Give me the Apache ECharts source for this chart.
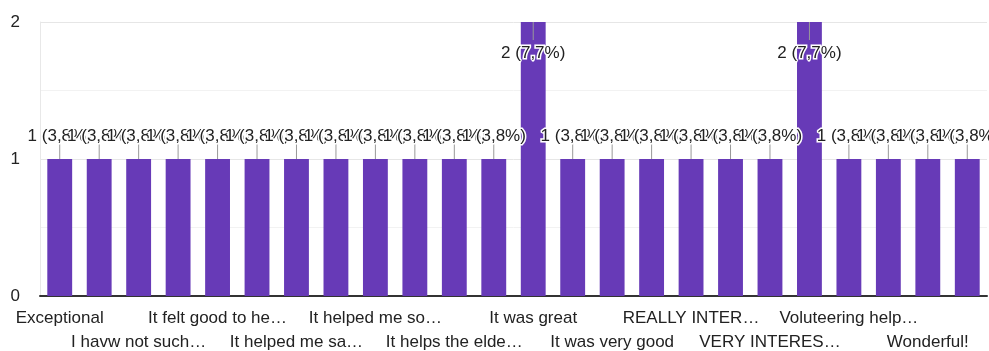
<!DOCTYPE html>
<html>
<head>
<meta charset="utf-8">
<script src="https://cdn.jsdelivr.net/npm/echarts@6/dist/echarts.min.js"></script>
<style>
html,body{margin:0;padding:0;background:#fff;}
#chart{width:989px;height:351px;}
</style>
</head>
<body>
<div id="chart"></div>
<script>
const categories = [
  "Exceptional", "Great experience", "I havw not such…", "It felt good",
  "It felt good to he…", "It helped me", "It helped me sa…", "It helped me see…",
  "It helped me so…", "It helps others", "It helps the elde…", "It was fun",
  "It was great", "It was nice", "It was very good", "Nice",
  "REALLY INTER…", "Very good", "VERY INTERES…", "Very nice",
  "Voluteering help…", "Wonderful", "Wonderful!", "Worth it"
];
const values = [1,1,1,1,1,1,1,1,1,1,1,1,2,1,1,1,1,1,1,2,1,1,1,1];
const yTicks = [0, 1, 2];

const total = values.reduce((a, b) => a + b, 0);
const yMax = yTicks[yTicks.length - 1];
const FONT = '"Liberation Sans", Arial, sans-serif';

const labelBase = {
  color: '#222',
  fontFamily: FONT,
  fontSize: 17,
  lineHeight: 24,
  margin: 10,
  hideOverlap: false
};

const chart = echarts.init(document.getElementById('chart'), null, {renderer: 'canvas'});
chart.setOption({
  animation: false,
  grid: {left: 40, right: 2, top: 22, bottom: 55, containLabel: false, outerBoundsMode: 'none'},
  xAxis: [
    {
      type: 'category',
      data: categories,
      position: 'bottom',
      axisLine: {show: true, lineStyle: {color: '#333', width: 2}},
      axisTick: {show: false},
      axisLabel: Object.assign({}, labelBase, {interval: (i) => i % 4 === 0}),
      splitLine: {show: false}
    },
    {
      type: 'category',
      data: categories,
      position: 'bottom',
      offset: 24,
      axisLine: {show: false},
      axisTick: {show: false},
      axisLabel: Object.assign({}, labelBase, {interval: (i) => i % 4 === 2}),
      splitLine: {show: false}
    }
  ],
  yAxis: {
    type: 'value',
    min: yTicks[0],
    max: yMax,
    interval: 1,
    axisLine: {show: true, lineStyle: {color: '#e8e8e8', width: 1}},
    axisTick: {show: false},
    axisLabel: {color: '#222', fontFamily: FONT, fontSize: 17, margin: 20},
    splitLine: {show: true, lineStyle: {color: '#e6e6e6', width: 1}},
    minorTick: {show: false, splitNumber: 2},
    minorSplitLine: {show: true, lineStyle: {color: '#f2f2f2', width: 1}}
  },
  series: [
    {
      type: 'bar',
      xAxisIndex: 0,
      data: values,
      barWidth: '63%',
      itemStyle: {color: '#673ab7'},
      z: 2
    },
    {
      type: 'custom',
      xAxisIndex: 0,
      clip: false,
      z: 5,
      data: values.map((v, i) => [i, v]),
      renderItem: function (params, api) {
        const idx = api.value(0);
        const v = api.value(1);
        const p = api.coord([idx, v]);
        const pct = (v / total * 100).toFixed(1).replace('.', ',');
        const txt = v + ' (' + pct + '%)';
        let l1, l2, ty;
        if (v >= yMax) {
          l1 = p[1]; l2 = p[1] + 18; ty = p[1] + 31;
        } else {
          l1 = p[1] - 18; l2 = p[1]; ty = p[1] - 23;
        }
        return {
          type: 'group',
          children: [
            {type: 'line', shape: {x1: p[0], y1: l1, x2: p[0], y2: l2},
             style: {stroke: '#999', lineWidth: 1}},
            {type: 'text', x: p[0], y: ty,
             style: {text: txt, fill: '#222', stroke: '#fff', lineWidth: 3,
                     fontFamily: FONT, fontSize: 17, align: 'center', verticalAlign: 'middle'}}
          ]
        };
      }
    }
  ]
});
</script>
</body>
</html>
